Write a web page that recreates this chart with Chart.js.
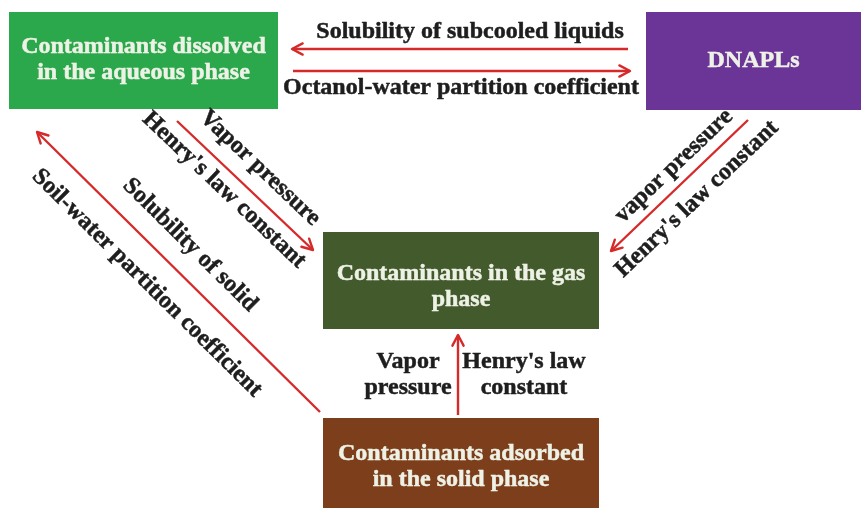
<!DOCTYPE html>
<html><head><meta charset="utf-8">
<script src="https://cdn.jsdelivr.net/npm/chart.js@4.4.1/dist/chart.umd.min.js"></script>
<style>html,body{margin:0;padding:0;background:#fff;}canvas{display:block;}</style>
</head><body>
<canvas id="c" width="861" height="508"></canvas>
<script>
// ---- data ----
const nodeNames = [
  ["Contaminants dissolved", "in the aqueous phase"],
  ["DNAPLs"],
  ["Contaminants in the gas", "phase"],
  ["Contaminants adsorbed", "in the solid phase"]
];
const arrowNames = ["aqueous←DNAPL", "aqueous→DNAPL", "aqueous→gas", "DNAPL→gas", "solid→aqueous", "solid→gas"];
const arrowLabelTexts = [
  ["Solubility of subcooled liquids"],
  ["Octanol-water partition coefficient"],
  ["Vapor pressure", "Henry's law constant"],
  ["vapor pressure", "Henry's law constant"],
  ["Solubility of solid", "Soil-water partition coefficient"],
  ["Vapor", "pressure", "Henry's law", "constant"]
];

// ---- layout (diagram coordinates on a 861 x 508 grid) ----
const nodeBox = [[9,12,278,109],[646,12,861,110],[323,232,599,329],[323,418,599,509]];
const nodeTextY = [60,61,287,467];
const nodeFill = ['#2ca84c','#6a3596','#435a2c','#7d3e1b'];
const arrowFrom = [[628,49],[293,71],[177,121],[748,120],[320,412],[458,415]];
const arrowTo   = [[292,49],[630,71],[313,250],[611,251],[37,132],[458,335]];
const labelPos = [
  [[470,32,0,'center']],
  [[461,88,0,'center']],
  [[260,168,43.5,'center'],[224,190,43.5,'center']],
  [[674,166,-43.7,'center'],[697,199,-43.7,'center']],
  [[190,245,44.7,'center'],[147,283,44.7,'center']],
  [[408,362,0,'center'],[408,388,0,'center'],[524,362,0,'center'],[524,388,0,'center']]
];
const RED = '#d62a2a';
const FONT = "bold 24px 'Liberation Serif', 'DejaVu Serif', serif";

const datasets = arrowNames.map((n,i)=>({
  label:n,
  data:[{x:arrowFrom[i][0],y:arrowFrom[i][1]},{x:arrowTo[i][0],y:arrowTo[i][1]}],
  showLine:true, borderColor:RED, borderWidth:2.4, pointRadius:0, fill:false
}));

function heavyText(ctx,t,x,y){
  ctx.fillText(t,x,y);
  ctx.lineWidth=0.5; ctx.strokeText(t,x,y);
}

const diagramPlugin = {
  id:'diagram',
  beforeDatasetsDraw(chart){
    const ctx=chart.ctx, xs=chart.scales.x, ys=chart.scales.y;
    ctx.save();
    nodeBox.forEach((b,i)=>{
      const x0=xs.getPixelForValue(b[0]), y0=ys.getPixelForValue(b[1]);
      const x1=xs.getPixelForValue(b[2]), y1=ys.getPixelForValue(b[3]);
      ctx.fillStyle=nodeFill[i];
      ctx.fillRect(x0,y0,x1-x0,y1-y0);
      ctx.fillStyle='#eef2e6'; ctx.strokeStyle='#eef2e6';
      ctx.font=FONT; ctx.textAlign='center'; ctx.textBaseline='middle';
      const lines=nodeNames[i], cx=(x0+x1)/2, cy=ys.getPixelForValue(nodeTextY[i]), lh=26;
      lines.forEach((t,k)=>heavyText(ctx,t,cx,cy+(k-(lines.length-1)/2)*lh));
    });
    ctx.restore();
  },
  afterDatasetsDraw(chart){
    const ctx=chart.ctx, xs=chart.scales.x, ys=chart.scales.y;
    ctx.save();
    chart.data.datasets.forEach((ds,i)=>{
      const p=ds.data;
      const ax=xs.getPixelForValue(p[0].x), ay=ys.getPixelForValue(p[0].y);
      const bx=xs.getPixelForValue(p[1].x), by=ys.getPixelForValue(p[1].y);
      const ang=Math.atan2(by-ay,bx-ax), L=12, w=Math.PI/6.5;
      ctx.strokeStyle=RED; ctx.lineWidth=2.4; ctx.lineCap='round'; ctx.lineJoin='round';
      ctx.beginPath();
      ctx.moveTo(bx-L*Math.cos(ang-w), by-L*Math.sin(ang-w));
      ctx.lineTo(bx,by);
      ctx.lineTo(bx-L*Math.cos(ang+w), by-L*Math.sin(ang+w));
      ctx.stroke();
    });
    ctx.fillStyle='#1e1e1e'; ctx.strokeStyle='#1e1e1e'; ctx.font=FONT; ctx.textBaseline='middle';
    arrowLabelTexts.forEach((texts,i)=>{
      texts.forEach((t,k)=>{
        const [x,y,deg,al]=labelPos[i][k];
        ctx.save();
        ctx.translate(xs.getPixelForValue(x), ys.getPixelForValue(y));
        ctx.rotate(deg*Math.PI/180);
        ctx.textAlign=al;
        heavyText(ctx,t,0,0);
        ctx.restore();
      });
    });
    ctx.restore();
  }
};

new Chart(document.getElementById('c'),{
  type:'scatter',
  data:{datasets},
  options:{
    responsive:false, animation:false, devicePixelRatio:1,
    layout:{padding:0},
    plugins:{legend:{display:false},tooltip:{enabled:false}},
    scales:{
      x:{type:'linear',min:0,max:861,display:false},
      y:{type:'linear',min:0,max:508,reverse:true,display:false}
    }
  },
  plugins:[diagramPlugin]
});
</script>
</body></html>
